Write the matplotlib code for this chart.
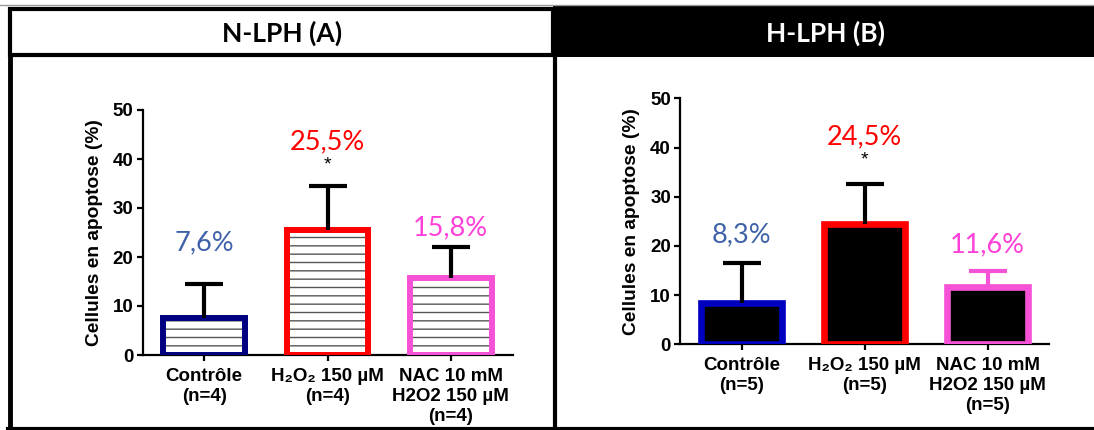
import matplotlib.pyplot as plt
from matplotlib.patches import Rectangle
from matplotlib.lines import Line2D

# data
groups_a = ['Contrôle\n(n=4)', 'H₂O₂ 150 µM\n(n=4)', 'NAC 10 mM\nH2O2 150 µM\n(n=4)']
groups_b = ['Contrôle\n(n=5)', 'H₂O₂ 150 µM\n(n=5)', 'NAC 10 mM\nH2O2 150 µM\n(n=5)']
means_a = [7.6, 25.5, 15.8]
errs_a = [6.9, 9.0, 6.2]
means_b = [8.3, 24.5, 11.6]
errs_b = [8.2, 8.1, 3.2]
labels_a = ['7,6%', '25,5%', '15,8%']
labels_b = ['8,3%', '24,5%', '11,6%']
signif = ['', '*', '']

W, H = 1094, 430
fig = plt.figure(figsize=(W / 100, H / 100), dpi=100)


def fx(px):
    return px / W


def fy(py):
    return 1 - py / H


# frame: headers and panel borders
fig.add_artist(Line2D([0, 1], [fy(4.5), fy(4.5)], color='#999999', lw=1,
                      transform=fig.transFigure))
fig.add_artist(Rectangle((fx(9.5), fy(55)), fx(553) - fx(9.5), fy(9) - fy(55),
                         facecolor='white', edgecolor='black', lw=3,
                         transform=fig.transFigure))
fig.add_artist(Rectangle((fx(553), fy(57)), 1 - fx(553), fy(5) - fy(57),
                         facecolor='black', edgecolor='none',
                         transform=fig.transFigure))
fig.add_artist(Line2D([fx(9.5), fx(9.5)], [fy(55), fy(428)], color='black', lw=3.5,
                      transform=fig.transFigure))
fig.add_artist(Line2D([fx(555), fx(555)], [fy(57), fy(428)], color='black', lw=3,
                      transform=fig.transFigure))
fig.add_artist(Line2D([fx(8), 1], [fy(428.5), fy(428.5)], color='black', lw=3,
                      transform=fig.transFigure))

fig.text(fx(282), fy(33), 'N-LPH (A)', ha='center', va='center',
         fontsize=19, fontweight='bold', family='Lato', color='black')
fig.text(fx(826), fy(33), 'H-LPH (B)', ha='center', va='center',
         fontsize=19, fontweight='bold', family='Lato', color='white')

tick_font = ['Liberation Sans', 'DejaVu Sans']
text_colors = ['#3F62A8', '#FF0000', '#FF40D9']


def panel(ax, groups, means, errs, labels, edge_colors, err_colors, hatched, offsets, star_off):
    x = range(len(means))
    if hatched:
        ax.bar(x, means, width=0.66, color='white', edgecolor='#555555', lw=0,
               hatch='--', zorder=2)
        ax.bar(x, means, width=0.66, color='none', edgecolor=edge_colors, lw=4.3, zorder=3)
    else:
        ax.bar(x, means, width=0.66, color='black', edgecolor=edge_colors, lw=4.8, zorder=3)
    for i in x:
        eb = ax.errorbar(i, means[i], yerr=[[0], [errs[i]]], fmt='none', ecolor=err_colors[i],
                         elinewidth=3, capsize=14, capthick=3, zorder=4)
        # only keep the upper cap
        eb[1][0].set_visible(False)
        top = means[i] + errs[i]
        ax.text(i, top + offsets[i], labels[i], ha='center', va='center',
                fontsize=19.5, family='Lato', color=text_colors[i])
        if signif[i]:
            ax.text(i, top + star_off, signif[i], ha='center', va='center',
                    fontsize=14, family=tick_font, color='black')
    ax.set_xlim(-0.5, 2.5)
    ax.set_ylim(0, 50)
    ax.set_yticks([0, 10, 20, 30, 40, 50])
    ax.set_xticks(list(x))
    ax.set_xticklabels(groups, fontsize=13.5, fontweight='bold', family=tick_font,
                       linespacing=1.22)
    for lab in ax.get_yticklabels():
        lab.set_fontsize(13.5)
        lab.set_fontweight('bold')
        lab.set_family(tick_font)
    ax.set_ylabel('Cellules en apoptose (%)', fontsize=13.8, fontweight='bold',
                  family=tick_font, labelpad=7)
    for s in ['top', 'right']:
        ax.spines[s].set_visible(False)
    for s in ['left', 'bottom']:
        ax.spines[s].set_linewidth(1.6)
    ax.tick_params(axis='both', width=1.6, length=4.5, pad=2)
    ax.tick_params(axis='x', pad=5)
    ax.set_facecolor('none')


ax_a = fig.add_axes([fx(142.5), fy(355), fx(512.5) - fx(142.5), fy(110) - fy(355)])
panel(ax_a, groups_a, means_a, errs_a, labels_a,
      ['#000080', '#FF0000', '#F552D6'], ['black', 'black', 'black'], True,
      [8.4, 9.0, 3.9], 4.3)

ax_b = fig.add_axes([fx(680), fy(344.3), fx(1049) - fx(680), fy(98.3) - fy(344.3)])
panel(ax_b, groups_b, means_b, errs_b, labels_b,
      ['#0000C0', '#FF0000', '#F552D6'], ['black', 'black', '#F552D6'], False,
      [5.7, 9.6, 5.4], 4.9)

fig.savefig('out.png', dpi=100)
